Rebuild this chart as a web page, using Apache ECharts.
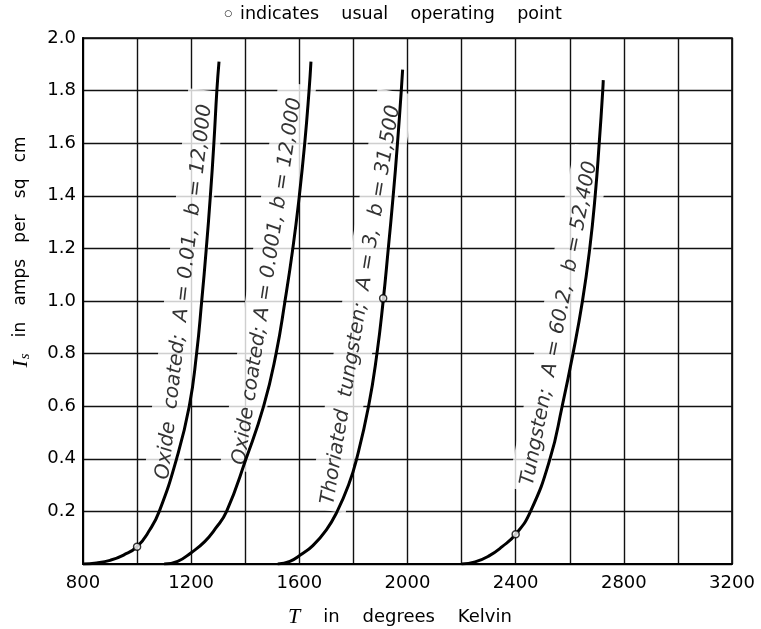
<!DOCTYPE html>
<html>
<head>
<meta charset="utf-8">
<script src="https://cdn.jsdelivr.net/npm/echarts@6/dist/echarts.min.js"></script>
<style>
  html, body { margin: 0; padding: 0; background: #fff; }
  #chart { width: 761px; height: 629px; }
</style>
</head>
<body>
<div id="chart"></div>
<script>
// Emission curves: T in kelvin, Is in amps per sq cm
const oxide1T = [800, 850, 900, 950, 1000, 1047, 1082, 1146, 1193, 1220, 1239, 1256, 1271, 1284, 1295, 1303];
const oxide1I = [0, 0.004, 0.014, 0.034, 0.066, 0.13, 0.2, 0.4, 0.6, 0.8, 1.0, 1.2, 1.4, 1.6, 1.8, 1.91];

const oxide2T = [1100, 1150, 1200, 1250, 1290, 1331, 1403, 1468, 1514, 1547, 1576, 1600, 1620, 1636, 1643];
const oxide2I = [0, 0.01, 0.043, 0.085, 0.135, 0.2, 0.4, 0.6, 0.8, 1.0, 1.2, 1.4, 1.6, 1.8, 1.91];

const thoriatedT = [1520, 1565, 1605, 1650, 1700, 1740, 1782, 1812, 1856, 1887, 1910, 1929, 1947, 1963, 1977, 1982];
const thoriatedI = [0, 0.01, 0.035, 0.07, 0.13, 0.2, 0.3, 0.4, 0.6, 0.8, 1.0, 1.2, 1.4, 1.6, 1.8, 1.88];

const tungstenT = [2200, 2250, 2300, 2350, 2400, 2455, 2527, 2572, 2612, 2647, 2674, 2694, 2709, 2722, 2724];
const tungstenI = [0, 0.008, 0.03, 0.066, 0.113, 0.2, 0.4, 0.6, 0.8, 1.0, 1.2, 1.4, 1.6, 1.8, 1.84];

// usual operating points (open circles)
const opT = [1000, 1910, 2400];
const opI = [0.066, 1.01, 0.113];

const curveNames = [
  'Oxide  coated;  A = 0.01,  b = 12,000',
  'Oxide coated; A = 0.001, b = 12,000',
  'Thoriated  tungsten;  A = 3,  b = 31,500',
  'Tungsten;  A = 60.2,  b = 52,400'
];

const xTicks = [800, 1200, 1600, 2000, 2400, 2800, 3200];

function pairs(ts, vs) {
  return ts.map(function (t, i) { return [t, vs[i]]; });
}

const curves = [
  pairs(oxide1T, oxide1I),
  pairs(oxide2T, oxide2I),
  pairs(thoriatedT, thoriatedI),
  pairs(tungstenT, tungstenI)
];

// where each slanted caption sits (data coords) and its tilt
const captionAt = [[1176, 1.05], [1484, 1.09], [1830, 1.0], [2564, 0.93]];
const captionTilt = [83.5, 81.3, 80.6, 78.9];

const chart = echarts.init(document.getElementById('chart'));

const gridLine = { show: true, lineStyle: { color: '#111', width: 1.4 } };

const lineSeries = curves.map(function (d) {
  return {
    type: 'line',
    data: d,
    smooth: 0.5,
    symbol: 'none',
    silent: true,
    z: 3,
    lineStyle: { color: '#000', width: 3 }
  };
});

chart.setOption({
  animation: false,
  grid: {
    left: 83, right: 29, top: 38, bottom: 65,
    show: true, borderColor: '#000', borderWidth: 1.6, backgroundColor: 'transparent'
  },
  xAxis: {
    type: 'value',
    min: 800, max: 3200, interval: 200,
    axisLine: { show: true, lineStyle: { color: '#000', width: 2 } },
    axisTick: { show: false },
    splitLine: gridLine,
    axisLabel: {
      color: '#000', fontSize: 18, fontFamily: 'DejaVu Sans', margin: 10,
      formatter: function (v) { return xTicks.indexOf(v) >= 0 ? String(v) : ''; }
    }
  },
  yAxis: {
    type: 'value',
    min: 0, max: 2.0, interval: 0.2,
    axisLine: { show: true, lineStyle: { color: '#000', width: 2 } },
    axisTick: { show: false },
    splitLine: gridLine,
    axisLabel: {
      color: '#000', fontSize: 18, fontFamily: 'DejaVu Sans', margin: 7,
      formatter: function (v) { return v === 0 ? '' : v.toFixed(1); }
    }
  },
  graphic: [
    {
      type: 'text', x: 393, y: 14,
      style: {
        text: '{c|○}indicates    usual    operating    point',
        fontFamily: 'DejaVu Sans', fontSize: 17.5, fill: '#000',
        align: 'center', verticalAlign: 'middle',
        rich: { c: { fontSize: 9, fontFamily: 'DejaVu Sans', padding: [0, 8, 0, 0] } }
      }
    },
    {
      type: 'text', x: 400, y: 617,
      style: {
        text: '{t|T}    in    degrees    Kelvin',
        fontFamily: 'DejaVu Sans', fontSize: 18, fill: '#000',
        align: 'center', verticalAlign: 'middle',
        rich: { t: { fontFamily: 'Liberation Serif', fontStyle: 'italic', fontSize: 22 } }
      }
    },
    {
      type: 'text', x: 21, y: 252, rotation: Math.PI / 2,
      style: {
        text: '{i|I}{s|s}   in   amps   per   sq   cm',
        fontFamily: 'DejaVu Sans', fontSize: 17, fill: '#000',
        align: 'center', verticalAlign: 'middle',
        rich: {
          i: { fontFamily: 'Liberation Serif', fontStyle: 'italic', fontSize: 22 },
          s: { fontFamily: 'Liberation Serif', fontStyle: 'italic', fontSize: 15, padding: [9, 0, 0, 1] }
        }
      }
    }
  ],
  series: lineSeries.concat([
    {
      type: 'scatter',
      silent: true,
      z: 1,
      symbolSize: 1,
      itemStyle: { color: 'transparent' },
      data: captionAt.map(function (p, i) {
        return {
          value: p,
          label: {
            show: true,
            position: 'inside',
            rotate: captionTilt[i],
            formatter: curveNames[i],
            fontFamily: 'DejaVu Sans', fontStyle: 'italic', fontSize: 20, color: '#000',
            backgroundColor: '#fff',
            padding: [2, 14, 16, 6]
          }
        };
      })
    },
    {
      type: 'scatter',
      silent: true,
      z: 4,
      symbol: 'circle',
      symbolSize: 7,
      itemStyle: { color: '#fff', borderColor: '#000', borderWidth: 1.5 },
      data: pairs(opT, opI)
    }
  ])
});
</script>
</body>
</html>
